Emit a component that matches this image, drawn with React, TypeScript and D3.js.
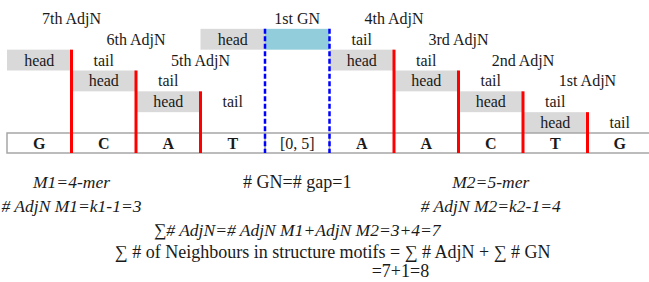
import { useEffect, useRef } from 'react';
import * as d3 from 'd3';

// sequence cells along the bottom strip
const bases = ['G', 'C', 'A', 'T', '[0, 5]', 'A', 'A', 'C', 'T', 'G'];
const gapIndex = 4;

// adjacent neighbours: head column, row of the head/tail pair
const adjLabels = ['7th AdjN', '6th AdjN', '5th AdjN', '4th AdjN', '3rd AdjN', '2nd AdjN', '1st AdjN'];
const adjHeads = [0, 1, 2, 5, 6, 7, 8];
const adjRows = [2, 3, 4, 2, 3, 4, 5];

// gap neighbour
const gnLabel = '1st GN';
const gnHead = 3;
const gnRow = 1;

// formulas below the strip
const formulaLines = [
  { text: 'M1=4-mer', col: 1, line: 0, italic: true },
  { text: '# GN=# gap=1', col: 4.5, line: 0, italic: false },
  { text: 'M2=5-mer', col: 7.5, line: 0, italic: true },
  { text: '# AdjN M1=k1-1=3', col: 1, line: 1, italic: true },
  { text: '# AdjN M2=k2-1=4', col: 7.5, line: 1, italic: true },
  { text: '\u2211# AdjN=# AdjN M1+AdjN M2=3+4=7', col: 4.5, line: 2, italic: true },
  { text: '\u2211 # of Neighbours in structure motifs = \u2211 # AdjN + \u2211 # GN', col: 5.05, line: 3, italic: false },
  { text: '=7+1=8', col: 6.1, line: 4, italic: false },
];

export default function App() {
  const svgRef = useRef<SVGSVGElement>(null);

  useEffect(() => {
    if (!svgRef.current) return;
    const svg = d3.select(svgRef.current);
    svg.selectAll('*').remove();

    const font = '"Liberation Serif", "Times New Roman", serif';
    const ink = '#1a1a1a';

    const x = d3.scaleBand<number>().domain(d3.range(10)).range([7, 652]);
    const bw = x.bandwidth();
    const edge = (i: number) => 7 + i * bw;
    const rowY = d3.scaleLinear().domain([0, 6]).range([8, 133]);
    const rh = rowY(1) - rowY(0);
    const tableTop = rowY(6);
    const tableBottom = 153;

    const g = svg.append('g').attr('font-family', font).attr('fill', ink);

    const cellText = (col: number, row: number, t: string) =>
      g.append('text')
        .attr('x', x(col)! + bw / 2)
        .attr('y', rowY(row) + rh / 2 + 5.5)
        .attr('text-anchor', 'middle')
        .attr('font-size', 16)
        .text(t);

    // adjacent neighbour pairs
    adjHeads.forEach((h, i) => {
      const r = adjRows[i];
      g.append('rect')
        .attr('x', x(h)!).attr('y', rowY(r))
        .attr('width', bw).attr('height', rh)
        .attr('fill', '#d9d9d9');
      cellText(h, r, 'head');
      cellText(h + 1, r, 'tail');
      g.append('text')
        .attr('x', edge(h + 1))
        .attr('y', rowY(r - 2) + rh / 2 + 5.5)
        .attr('text-anchor', 'middle')
        .attr('font-size', 16)
        .text(adjLabels[i]);
    });

    // gap neighbour
    g.append('rect')
      .attr('x', x(gnHead)!).attr('y', rowY(gnRow))
      .attr('width', bw).attr('height', rh)
      .attr('fill', '#d9d9d9');
    g.append('rect')
      .attr('x', x(gapIndex)!).attr('y', rowY(gnRow))
      .attr('width', bw).attr('height', rh)
      .attr('fill', '#92cddc');
    cellText(gnHead, gnRow, 'head');
    cellText(gnHead + 2, gnRow, 'tail');
    cellText(gapIndex, gnRow - 1, gnLabel);

    // sequence table
    g.append('rect')
      .attr('x', 7).attr('y', tableTop)
      .attr('width', 10 * bw).attr('height', tableBottom - tableTop)
      .attr('fill', 'none').attr('stroke', '#a6a6a6').attr('stroke-width', 1.5);
    d3.range(1, 10).forEach((i) => {
      g.append('line')
        .attr('x1', edge(i)).attr('x2', edge(i))
        .attr('y1', tableTop).attr('y2', tableBottom)
        .attr('stroke', '#a6a6a6').attr('stroke-width', 1.5);
    });
    bases.forEach((b, i) => {
      g.append('text')
        .attr('x', x(i)! + bw / 2)
        .attr('y', tableBottom - 4.5)
        .attr('text-anchor', 'middle')
        .attr('font-size', 16)
        .attr('font-weight', i === gapIndex ? 'normal' : 'bold')
        .text(b);
    });

    // red boundaries between head and tail
    adjHeads.forEach((h, i) => {
      g.append('line')
        .attr('x1', edge(h + 1)).attr('x2', edge(h + 1))
        .attr('y1', rowY(adjRows[i])).attr('y2', tableBottom)
        .attr('stroke', '#ff0000').attr('stroke-width', 3);
    });

    // blue dashed gap borders
    [gapIndex, gapIndex + 1].forEach((i) => {
      g.append('line')
        .attr('x1', edge(i)).attr('x2', edge(i))
        .attr('y1', rowY(gnRow)).attr('y2', tableBottom)
        .attr('stroke', '#0000ff').attr('stroke-width', 2.5)
        .attr('stroke-dasharray', '5,2.5');
    });

    // formulas
    const lineY = [188, 212, 236, 258, 277];
    formulaLines.forEach((f) => {
      g.append('text')
        .attr('x', edge(f.col))
        .attr('y', lineY[f.line])
        .attr('text-anchor', 'middle')
        .attr('font-size', f.italic ? 17.5 : 18)
        .attr('font-style', f.italic ? 'italic' : 'normal')
        .text(f.text);
    });
  }, []);

  return (
    <svg
      ref={svgRef}
      width={649}
      height={282}
      style={{ position: 'absolute', left: 0, top: 0, background: '#fff' }}
    />
  );
}
